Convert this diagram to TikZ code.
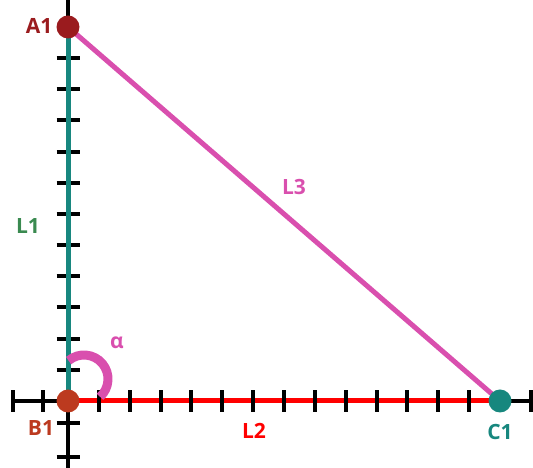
\documentclass[tikz,border=0pt]{standalone}
\usepackage{fontspec}
\setmainfont{Open Sans}
\definecolor{ptA}{HTML}{9A1B1E}
\definecolor{ptB}{HTML}{BC3A1F}
\definecolor{ptC}{HTML}{17877E}
\definecolor{lineL1}{HTML}{18877F}
\definecolor{labL1}{HTML}{3A8A50}
\definecolor{lineL2}{HTML}{FF0000}
\definecolor{lineL3}{HTML}{D94FAE}
\tikzset{
  axisline/.style={black, line width=4pt},
  tickmark/.style={black, line width=4pt},
  seg/.style={line width=5pt},
  pt/.style={circle, minimum size=23pt, inner sep=0pt},
  lab/.style={font=\bfseries\fontsize{21}{25}\selectfont, inner sep=0pt}
}
\begin{document}
\begin{tikzpicture}[x=1pt,y=1pt]
\useasboundingbox (0,0) rectangle (533,468);
% points (nodes)
\coordinate (B1) at (68,67);
\coordinate (A1) at (68,441);
\coordinate (C1) at (500,67);
\coordinate (Vtop) at (68,468);
\coordinate (Vbot) at (68,0);
\coordinate (Hl) at (13,67);
\coordinate (Hr) at (531,67);
% axes
\draw[axisline] (Vbot) -- (Vtop);
\draw[axisline] (Hl) -- (Hr);
\draw[tickmark] (13,56) -- (13,78);
\draw[tickmark] (531,56) -- (531,78);
% y-axis ticks
\foreach \k in {1,...,11}{
  \draw[tickmark] (56.5,{67+31.17*\k}) -- (79.5,{67+31.17*\k});
}
\draw[tickmark] (56.5,45) -- (79.5,45);
\draw[tickmark] (56.5,11) -- (79.5,11);
% segments
\draw[seg, lineL1] (B1) -- (A1);
\draw[seg, lineL2] (B1) -- (C1);
\draw[seg, lineL3] (A1) -- (C1);
% x-axis ticks
\draw[tickmark] (43,56) -- (43,78);
\foreach \k in {1,...,13}{
  \draw[tickmark] ({68+30.86*\k},56) -- ({68+30.86*\k},78);
}
% angle
\draw[lineL3, line width=9pt] (84,89) ++(130:24) arc[start angle=130, end angle=-48, radius=24];
% point markers
\node[pt, fill=ptA] (nA1) at (A1) {};
\node[pt, fill=ptB] (nB1) at (B1) {};
\node[pt, fill=ptC] (nC1) at (C1) {};
% labels
\node[lab, text=ptA] (tA1) at (39,442) {A1};
\node[lab, text=ptB] (tB1) at (41,40) {B1};
\node[lab, text=ptC] (tC1) at (500,36) {C1};
\node[lab, text=labL1] (tL1) at (28,242) {L1};
\node[lab, text=lineL2] (tL2) at (254,37) {L2};
\node[lab, text=lineL3] (tL3) at (294,281) {L3};
\node[lab, text=lineL3] (talpha) at (117,125) {α};
\end{tikzpicture}
\end{document}
